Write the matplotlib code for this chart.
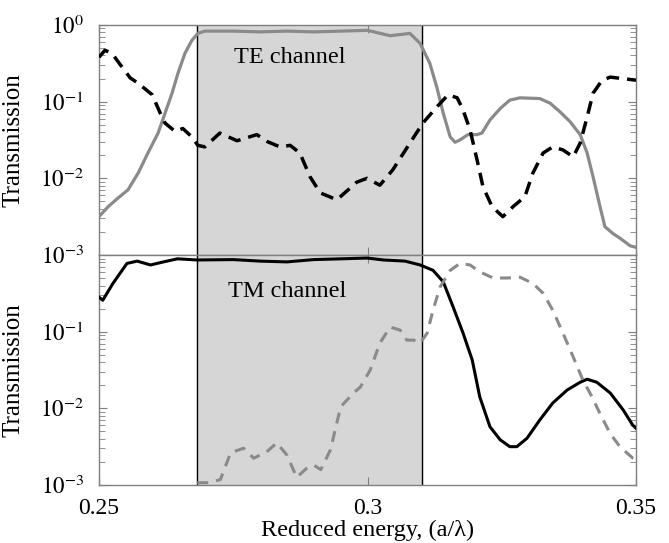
import numpy as np
import matplotlib
matplotlib.use("Agg")
import matplotlib.pyplot as plt

plt.rcParams['font.family'] = ['Liberation Serif', 'DejaVu Serif']
plt.rcParams['mathtext.fontset'] = 'stix'

# ---- data (x: reduced energy a/lambda, y: log10 transmission) ----
# TE channel, solid grey
te_te_x = [0.2500, 0.2517, 0.2535, 0.2554, 0.2573, 0.2591, 0.2610, 0.2623, 0.2636,
           0.2647, 0.2660, 0.2673, 0.2684, 0.2697, 0.2750, 0.2800, 0.2850, 0.2900,
           0.2950, 0.3000, 0.3042, 0.3079, 0.3098, 0.3116, 0.3129, 0.3141, 0.3154,
           0.3163, 0.3172, 0.3187, 0.3204, 0.3213, 0.3228, 0.3247, 0.3265, 0.3284,
           0.3321, 0.3340, 0.3358, 0.3377, 0.3396, 0.3409, 0.3420, 0.3433, 0.3442,
           0.3457, 0.3470, 0.3489, 0.3500]
te_te_log = [-2.50, -2.37, -2.26, -2.15, -1.93, -1.67, -1.41, -1.15, -0.89,
             -0.63, -0.37, -0.20, -0.11, -0.08, -0.08, -0.09, -0.08, -0.09,
             -0.08, -0.07, -0.14, -0.11, -0.24, -0.50, -0.81, -1.15, -1.46,
             -1.53, -1.50, -1.43, -1.43, -1.41, -1.24, -1.09, -0.98, -0.95,
             -0.96, -1.02, -1.13, -1.26, -1.43, -1.67, -1.98, -2.37, -2.63,
             -2.72, -2.78, -2.88, -2.90]

# TE channel, dashed black
tm_te_x = [0.2500, 0.2511, 0.2524, 0.2543, 0.2558, 0.2573, 0.2599, 0.2614, 0.2623,
           0.2642, 0.2656, 0.2673, 0.2684, 0.2697, 0.2725, 0.2757, 0.2794, 0.2813,
           0.2837, 0.2856, 0.2874, 0.2893, 0.2912, 0.2943, 0.2980, 0.2999, 0.3023,
           0.3047, 0.3079, 0.3103, 0.3129, 0.3150, 0.3167, 0.3178, 0.3191, 0.3204,
           0.3215, 0.3232, 0.3252, 0.3271, 0.3293, 0.3308, 0.3327, 0.3345, 0.3364,
           0.3383, 0.3396, 0.3409, 0.3420, 0.3437, 0.3452, 0.3476, 0.3500]
tm_te_log = [-0.42, -0.33, -0.37, -0.55, -0.69, -0.76, -0.91, -1.15, -1.28,
             -1.39, -1.35, -1.46, -1.57, -1.59, -1.41, -1.51, -1.43, -1.52,
             -1.59, -1.57, -1.67, -1.98, -2.19, -2.28, -2.05, -2.00, -2.09,
             -1.89, -1.54, -1.28, -1.07, -0.91, -0.95, -1.11, -1.37, -1.76,
             -2.11, -2.37, -2.50, -2.37, -2.24, -1.93, -1.67, -1.59, -1.63,
             -1.72, -1.54, -1.20, -0.89, -0.72, -0.68, -0.70, -0.72]

# TM channel, solid black
tm_tm_x = [0.2500, 0.2507, 0.2526, 0.2552, 0.2571, 0.2596, 0.2620, 0.2646, 0.2683,
           0.2750, 0.2800, 0.2850, 0.2900, 0.2950, 0.2999, 0.3030, 0.3070, 0.3098,
           0.3122, 0.3141, 0.3159, 0.3178, 0.3195, 0.3209, 0.3228, 0.3247, 0.3265,
           0.3278, 0.3297, 0.3321, 0.3345, 0.3372, 0.3396, 0.3409, 0.3427, 0.3452,
           0.3476, 0.3494, 0.3500]
tm_tm_log = [-0.55, -0.59, -0.37, -0.11, -0.08, -0.13, -0.09, -0.05, -0.065,
             -0.06, -0.08, -0.09, -0.06, -0.05, -0.04, -0.065, -0.08, -0.13,
             -0.20, -0.35, -0.67, -1.02, -1.37, -1.85, -2.24, -2.41, -2.50,
             -2.50, -2.39, -2.15, -1.93, -1.76, -1.66, -1.62, -1.66, -1.80,
             -2.02, -2.22, -2.26]

# TM channel, dashed grey
te_tm_x = [0.2683, 0.2704, 0.2726, 0.2745, 0.2769, 0.2788, 0.2812, 0.2831, 0.2850,
           0.2868, 0.2887, 0.2900, 0.2913, 0.2931, 0.2950, 0.2974, 0.2987, 0.3005,
           0.3023, 0.3042, 0.3061, 0.3073, 0.3086, 0.3098, 0.3111, 0.3122, 0.3135,
           0.3154, 0.3172, 0.3191, 0.3209, 0.3234, 0.3260, 0.3284, 0.3308, 0.3327,
           0.3345, 0.3364, 0.3383, 0.3401, 0.3418, 0.3433, 0.3452, 0.3470, 0.3494,
           0.3500]
te_tm_log = [-2.97, -2.97, -2.93, -2.58, -2.52, -2.65, -2.57, -2.45, -2.61,
             -2.90, -2.78, -2.74, -2.80, -2.54, -1.98, -1.80, -1.72, -1.50,
             -1.15, -0.94, -0.98, -1.11, -1.11, -1.15, -1.02, -0.72, -0.42,
             -0.20, -0.11, -0.13, -0.22, -0.30, -0.30, -0.29, -0.37, -0.50,
             -0.72, -1.02, -1.33, -1.63, -1.85, -2.07, -2.33, -2.50, -2.65,
             -2.67]

band = [0.2683, 0.3102]
xticks = [0.25, 0.3, 0.35]
xtick_labels = ['0.25', '0.3', '0.35']

GREY = '#8a8a8a'
FRAME = '#7f7f7f'

fig = plt.figure(figsize=(6.69, 5.43), dpi=100)
ax1 = fig.add_axes([0.148, 0.5304, 0.8027, 0.4236])
ax2 = fig.add_axes([0.148, 0.1068, 0.8027, 0.4236])

for ax in (ax1, ax2):
    ax.set_yscale('log')
    ax.set_xlim(0.25, 0.35)
    ax.set_ylim(1e-3, 1)
    ax.axvspan(band[0], band[1], color='#d6d6d6', zorder=0)
    ax.axvline(band[0], color='black', lw=1.0, zorder=1)
    ax.axvline(band[1], color='black', lw=1.0, zorder=1)
    for s in ax.spines.values():
        s.set_color(FRAME)
        s.set_linewidth(1.0)
    ax.tick_params(axis='y', which='both', direction='in', left=True, right=True,
                   color=FRAME, labelsize=16.5, pad=11)
    ax.tick_params(axis='y', which='major', length=6, width=0.8)
    ax.tick_params(axis='y', which='minor', length=4, width=0.6)
    ax.tick_params(axis='x', which='major', direction='in', top=True, bottom=True,
                   length=6, width=0.8, color=FRAME, labelsize=17, pad=9)
    ax.set_xticks(xticks)
    ax.xaxis.set_minor_locator(matplotlib.ticker.NullLocator())
    ax.yaxis.set_minor_locator(matplotlib.ticker.LogLocator(base=10, subs=np.arange(2, 10), numticks=20))
    ax.set_ylabel('Transmission', fontsize=18)
    ax.yaxis.set_label_coords(-0.138, 0.5)

ax1.plot(te_te_x, 10 ** np.array(te_te_log), color=GREY, lw=2.3, zorder=3)
ax1.plot(tm_te_x, 10 ** np.array(tm_te_log), color='black', lw=2.5,
         dashes=(3.7, 2.3), zorder=3)
ax1.set_yticks([1, 1e-1, 1e-2, 1e-3])
ax1.set_yticklabels([r'$10^{0}$', r'$10^{-1}$', r'$10^{-2}$', r'$10^{-3}$'])
ax1.set_xticklabels([])
ax1.text(0.2856, 10 ** -0.42, 'TE channel', fontsize=17.5, ha='center', va='center')

ax2.plot(tm_tm_x, 10 ** np.array(tm_tm_log), color='black', lw=2.2, zorder=3)
ax2.plot(te_tm_x, 10 ** np.array(te_tm_log), color=GREY, lw=2.2,
         dashes=(3.6, 2.6), zorder=3)
ax2.set_yticks([1e-1, 1e-2, 1e-3])
ax2.set_yticklabels([r'$10^{-1}$', r'$10^{-2}$', r'$10^{-3}$'])
ax2.set_xticklabels(xtick_labels)
ax2.text(0.285, 10 ** -0.48, 'TM channel', fontsize=17.5, ha='center', va='center')
ax2.set_xlabel('Reduced energy, (a/λ)', fontsize=17.5)
ax2.xaxis.set_label_coords(0.5, -0.152)

fig.savefig('out.png', dpi=100)
